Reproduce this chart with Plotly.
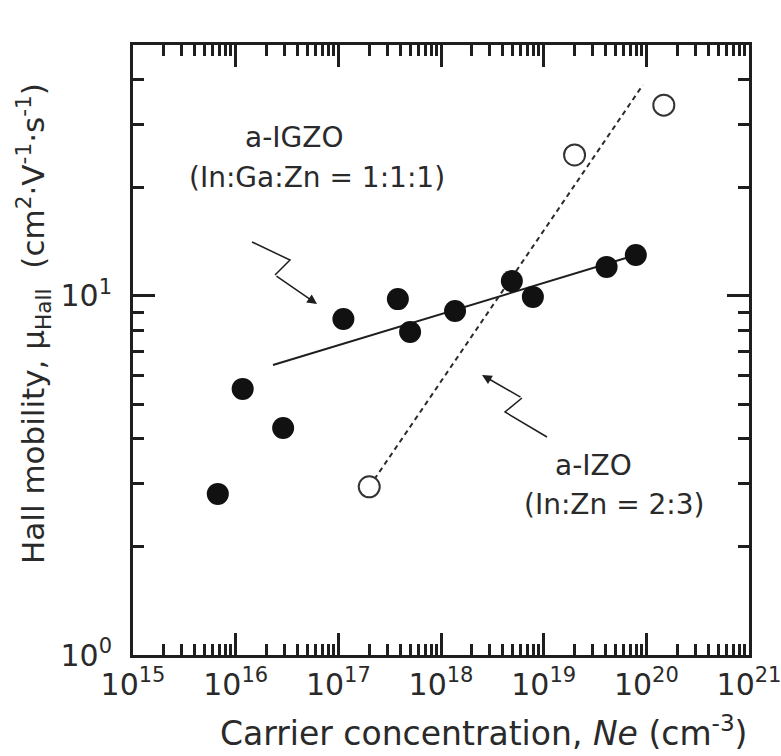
import plotly.graph_objects as go

# ---- data ----
igzo_ne = [6.7e15, 1.17e16, 2.9e16, 1.12e17, 3.8e17, 5.0e17, 1.37e18, 4.9e18, 7.85e18, 4.1e19, 7.9e19]
igzo_mu = [2.81, 5.51, 4.29, 8.63, 9.8, 7.94, 9.08, 11.0, 9.94, 12.05, 13.0]
izo_ne = [2.0e17, 2.0e19, 1.48e20]
izo_mu = [2.94, 24.7, 34.0]
igzo_fit_ne = [2.31e16, 7.9e19]
igzo_fit_mu = [6.42, 13.0]
izo_fit_ne = [2.0e17, 9.25e19]
izo_fit_mu = [2.94, 38.7]

x_tickvals = [1e15, 1e16, 1e17, 1e18, 1e19, 1e20, 1e21]
x_ticktext = ["10<sup>15</sup>", "10<sup>16</sup>", "10<sup>17</sup>", "10<sup>18</sup>",
              "10<sup>19</sup>", "10<sup>20</sup>", "10<sup>21</sup>"]
y_tickvals = [1, 10]
y_ticktext = ["10<sup>0</sup>", "10<sup>1</sup>"]

FONT = "DejaVu Sans"
INK = "#1e1e1e"
TXT = "#2a2a2a"

# plot-area geometry in pixels (for paper conversions of decorations)
L, R, T, B = 133, 749, 45, 655
W, H = 781, 756


def px(xp):
    return (xp - L) / (R - L)


def py(yp):
    return (B - yp) / (B - T)


fig = go.Figure()
fig.add_trace(go.Scatter(x=igzo_fit_ne, y=igzo_fit_mu, mode="lines",
                         line=dict(color=INK, width=2), hoverinfo="skip", showlegend=False))
fig.add_trace(go.Scatter(x=izo_fit_ne, y=izo_fit_mu, mode="lines",
                         line=dict(color="#2a2a2a", width=2, dash="5px,4px"),
                         hoverinfo="skip", showlegend=False))
fig.add_trace(go.Scatter(x=igzo_ne, y=igzo_mu, mode="markers", name="a-IGZO",
                         marker=dict(size=22, color="#111", line=dict(width=0)),
                         showlegend=False))
fig.add_trace(go.Scatter(x=izo_ne, y=izo_mu, mode="markers", name="a-IZO",
                         marker=dict(size=21, color="white", line=dict(width=2, color="#333")),
                         showlegend=False))

axis_common = dict(
    type="log", showgrid=False, zeroline=False,
    showline=True, linecolor=INK, linewidth=3, mirror="allticks",
    ticks="inside", ticklen=22, tickwidth=3, tickcolor=INK,
    tickfont=dict(family=FONT, size=30, color=TXT),
    minor=dict(ticks="inside", ticklen=11, tickwidth=2.5, tickcolor=INK,
               dtick="D1", showgrid=False),
    tickmode="array", ticklabeloverflow="allow",
)

fig.update_xaxes(range=[15, 21], tickvals=x_tickvals, ticktext=x_ticktext,
                 ticklabelstandoff=1, **axis_common)
fig.update_yaxes(range=[0, 1.69897], tickvals=y_tickvals, ticktext=y_ticktext,
                 ticklabelstandoff=12, **axis_common)

annos = []
# axis titles
annos.append(dict(text="Carrier concentration, <i>Ne</i> (cm<sup>-3</sup>)",
                  x=px(483), y=py(731), xref="paper", yref="paper",
                  xanchor="center", yanchor="middle", showarrow=False,
                  font=dict(family=FONT, size=33, color=TXT)))
annos.append(dict(text="Hall mobility, μ<sub>Hall</sub>  (cm<sup>2</sup>·V<sup>-1</sup>·s<sup>-1</sup>)",
                  x=px(33), y=py(324), xref="paper", yref="paper", textangle=-90,
                  xanchor="center", yanchor="middle", showarrow=False,
                  font=dict(family=FONT, size=31, color=TXT)))
# labels
annos.append(dict(text="a-IGZO", x=px(294), y=py(137), xref="paper", yref="paper",
                  xanchor="center", yanchor="middle", showarrow=False,
                  font=dict(family=FONT, size=28, color=TXT)))
annos.append(dict(text="(In:Ga:Zn = 1:1:1)", x=px(187), y=py(178), xref="paper", yref="paper",
                  xanchor="left", yanchor="middle", showarrow=False,
                  font=dict(family=FONT, size=28, color=TXT)))
annos.append(dict(text="a-IZO", x=px(593), y=py(465), xref="paper", yref="paper",
                  xanchor="center", yanchor="middle", showarrow=False,
                  font=dict(family=FONT, size=28, color=TXT)))
annos.append(dict(text="(In:Zn = 2:3)", x=px(522), y=py(505), xref="paper", yref="paper",
                  xanchor="left", yanchor="middle", showarrow=False,
                  font=dict(family=FONT, size=28, color=TXT)))

# zig-zag arrows: last segment with arrowhead
annos.append(dict(text="", x=px(317), y=py(304), xref="paper", yref="paper",
                  ax=275 - 317, ay=275 - 304, showarrow=True, arrowhead=2,
                  arrowsize=1.3, arrowwidth=1.5, arrowcolor=INK))
annos.append(dict(text="", x=px(482), y=py(375), xref="paper", yref="paper",
                  ax=522 - 482, ay=398 - 375, showarrow=True, arrowhead=2,
                  arrowsize=1.3, arrowwidth=1.5, arrowcolor=INK))

shapes = [
    dict(type="path", xref="paper", yref="paper",
         path=f"M {px(252)} {py(242)} L {px(290)} {py(260)} L {px(275)} {py(275)}",
         line=dict(color=INK, width=1.5)),
    dict(type="path", xref="paper", yref="paper",
         path=f"M {px(522)} {py(398)} L {px(505)} {py(412)} L {px(547)} {py(437)}",
         line=dict(color=INK, width=1.5)),
]

fig.update_layout(
    width=W, height=H,
    margin=dict(l=L, r=W - R, t=T, b=H - B, autoexpand=False),
    plot_bgcolor="white", paper_bgcolor="white",
    annotations=annos, shapes=shapes,
    font=dict(family=FONT, color=TXT),
)

fig.write_html("out.html")
